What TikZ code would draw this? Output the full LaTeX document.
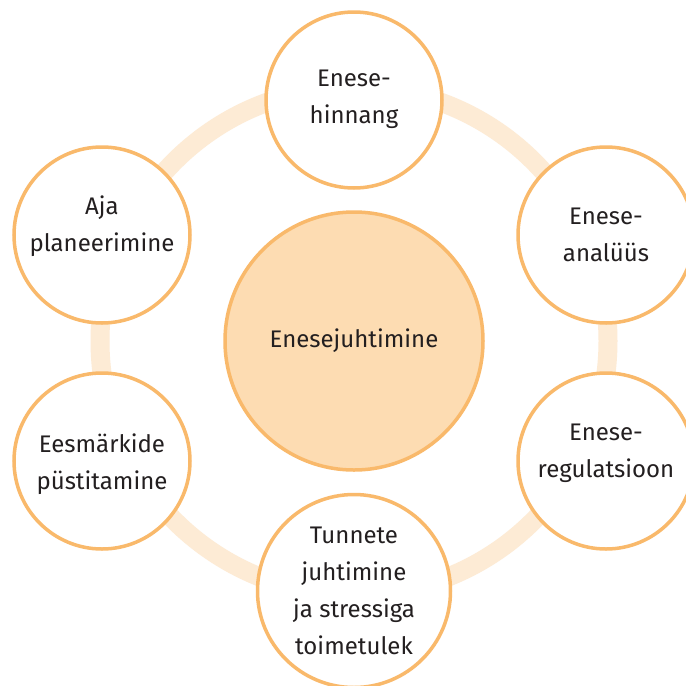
\documentclass[tikz,border=0pt]{standalone}
\usepackage{fontspec}
\setmainfont{Fira Sans}
\definecolor{ringc}{HTML}{FDEBD5}
\definecolor{edgec}{HTML}{F9B96B}
\definecolor{hubc}{HTML}{FDDCB2}
\definecolor{txtc}{HTML}{231F20}
\tikzset{
  sat/.style={circle, draw=edgec, line width=3.5pt, fill=white, minimum size=176pt, inner sep=0pt},
  lbl/.style={align=center, text=txtc, font=\fontsize{24}{37}\selectfont, inner sep=0pt},
}
\begin{document}
\begin{tikzpicture}[x=1pt,y=-1pt]
\useasboundingbox (0,0) rectangle (686,686);
\fill[white] (0,0) rectangle (686,686);
\draw[ringc, line width=19pt] (354,341) circle (254);
\node[sat] (top) at (354,100) {};
\node[sat] (lt) at (102,235) {};
\node[sat] (rt) at (606,235) {};
\node[sat] (lb) at (102,461) {};
\node[sat] (rb) at (606,461) {};
\node[sat, minimum size=193pt] (bot) at (354,591) {};
\node[sat, fill=hubc, minimum size=258pt] (hub) at (354,341) {};
\node[lbl] (ttop) at (354,99) {Enese-\\hinnang};
\node[lbl] (tlt) at (102,226) {Aja\\planeerimine};
\node[lbl] (trt) at (606,235) {Enese-\\analüüs};
\node[lbl] (tlb) at (102,464) {Eesmärkide\\püstitamine};
\node[lbl] (trb) at (606,453) {Enese-\\regulatsioon};
\node[lbl] (tbot) at (354,591) {Tunnete\\juhtimine\\ja stressiga\\toimetulek};
\node[lbl] (thub) at (354,341) {Enesejuhtimine};
\end{tikzpicture}
\end{document}
